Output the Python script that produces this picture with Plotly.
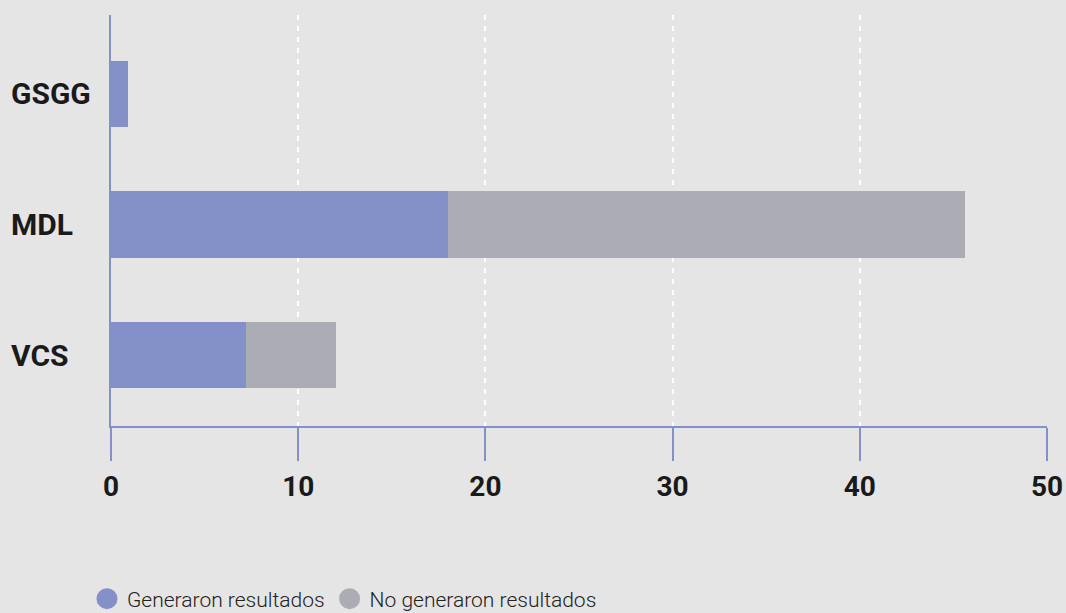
import plotly.graph_objects as go

categories = ["GSGG", "MDL", "VCS"]
generaron = [0.9, 18.0, 7.2]
no_generaron = [0.0, 27.6, 4.8]
series_names = ["Generaron resultados", "No generaron resultados"]
x_ticks = [0, 10, 20, 30, 40, 50]

BLUE = "#8490c8"
GRAY = "#abacb4"
BG = "#e5e5e5"
AXIS = "#8490c8"

fig = go.Figure()
fig.add_trace(go.Bar(y=categories, x=generaron, orientation="h", marker=dict(color=BLUE, line=dict(width=0)),
                     name=series_names[0], showlegend=False))
fig.add_trace(go.Bar(y=categories, x=no_generaron, orientation="h", marker=dict(color=GRAY, line=dict(width=0)),
                     name=series_names[1], showlegend=False))
for nm, col in zip(series_names, [BLUE, GRAY]):
    fig.add_trace(go.Scatter(x=[None], y=[None], mode="markers", name=nm,
                             marker=dict(symbol="circle", size=16, color=col, line=dict(color=col, width=5))))

for c in categories:
    fig.add_annotation(x=-0.109, xref="paper", y=c, yref="y", text=c, showarrow=False,
                       xanchor="left", yanchor="middle",
                       font=dict(family="Roboto", size=30, color="#1a1a1a", weight="bold"))

fig.update_layout(
    width=1066, height=613,
    paper_bgcolor=BG, plot_bgcolor=BG,
    barmode="stack", bargap=0.494,
    margin=dict(l=111, r=19, t=15, b=187, autoexpand=False),
    showlegend=True,
    legend=dict(orientation="h", xref="container", yref="container",
                x=0.0816, xanchor="left", y=0.0228, yanchor="middle",
                traceorder="normal",
                font=dict(family="Roboto", size=21, color="#222222", weight=300),
                bgcolor="rgba(0,0,0,0)", tracegroupgap=0),
    xaxis=dict(range=[0, 50], tickvals=x_ticks, showgrid=True, gridcolor="white", gridwidth=2,
               griddash="5px,6px", zeroline=False, showline=True, linecolor=AXIS, linewidth=2,
               ticks="outside", ticklen=33, tickwidth=2, tickcolor=AXIS, ticklabelstandoff=1,
               automargin=False,
               tickfont=dict(family="Roboto", size=28, color="#1a1a1a", weight="bold")),
    yaxis=dict(categoryorder="array", categoryarray=categories, range=[2.544, -0.605],
               showticklabels=False, showgrid=False, zeroline=False, showline=True,
               automargin=False, linecolor=AXIS, linewidth=2, ticks=""),
)

fig.write_html("out.html", config={"displayModeBar": False},
               post_script="document.body.style.margin='0';document.body.style.background='#e5e5e5';"
                           "document.body.style.overflow='hidden';")
